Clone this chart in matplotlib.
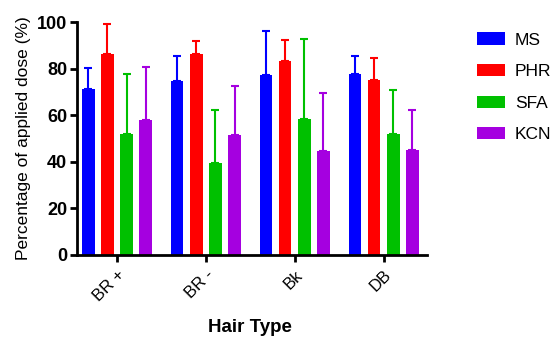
import matplotlib
matplotlib.use("Agg")
import matplotlib.pyplot as plt
import numpy as np

categories = ["BR +", "BR -", "Bk", "DB"]
series = ["MS", "PHR", "SFA", "KCN"]
ms_mean = [71.2, 74.8, 77.4, 77.8]
ms_err_top = [80.3, 85.5, 96.0, 85.5]
phr_mean = [86.3, 86.3, 83.1, 75.2]
phr_err_top = [99.0, 91.7, 92.1, 84.4]
sfa_mean = [52.0, 39.5, 58.2, 52.0]
sfa_err_top = [77.7, 62.2, 92.7, 70.9]
kcn_mean = [58.0, 51.5, 44.8, 45.2]
kcn_err_top = [80.8, 72.5, 69.4, 62.2]
colors = ["#0000FF", "#FF0000", "#00C000", "#A500E0"]

means = [ms_mean, phr_mean, sfa_mean, kcn_mean]
tops = [ms_err_top, phr_err_top, sfa_err_top, kcn_err_top]

plt.rcParams['font.family'] = ['Liberation Sans', 'DejaVu Sans']

fig = plt.figure(figsize=(5.56, 3.39), dpi=100)
ax = fig.add_axes([0.1385, 0.248, 0.630, 0.687])

x = np.arange(len(categories))
step = 0.215
width = 0.14
for i, (m, t, c, name) in enumerate(zip(means, tops, colors, series)):
    pos = x + (i - 1.5) * step
    m = np.array(m); t = np.array(t)
    ax.bar(pos, m, width=width, color=c, label=name, zorder=2)
    yerr = np.vstack([np.zeros_like(m), t - m])
    ax.errorbar(pos, m, yerr=yerr, fmt='none', ecolor=c, elinewidth=1.5,
                capsize=3, capthick=1.5, zorder=1)

ax.set_xlim(-0.45, 3.49)
ax.set_ylim(0, 100)
ax.set_yticks([0, 20, 40, 60, 80, 100])
ax.set_xticks(x)
ax.set_xticklabels(categories, rotation=45, ha='right', rotation_mode='anchor', fontsize=12)
for lbl in ax.get_yticklabels():
    lbl.set_fontweight('bold')
    lbl.set_fontsize(13)
ax.spines['top'].set_visible(False)
ax.spines['right'].set_visible(False)
ax.spines['left'].set_linewidth(2)
ax.spines['bottom'].set_linewidth(2)
ax.tick_params(axis='both', width=2, length=5, direction='out')
ax.tick_params(axis='x', pad=4)
ax.tick_params(axis='y', pad=2)
ax.set_ylabel("Percentage of applied dose (%)", fontsize=12.5, labelpad=4)
fig.text(250 / 556, 1 - 328 / 339, "Hair Type", fontsize=13.5, fontweight='bold',
         ha='center', va='center')

leg = ax.legend(loc='upper left', bbox_to_anchor=(0.845, 0.925), bbox_transform=fig.transFigure,
                frameon=False, fontsize=12.5, handlelength=1.6, handleheight=0.7,
                labelspacing=0.95, handletextpad=0.6, borderaxespad=0)

fig.savefig("out.png", dpi=100)
